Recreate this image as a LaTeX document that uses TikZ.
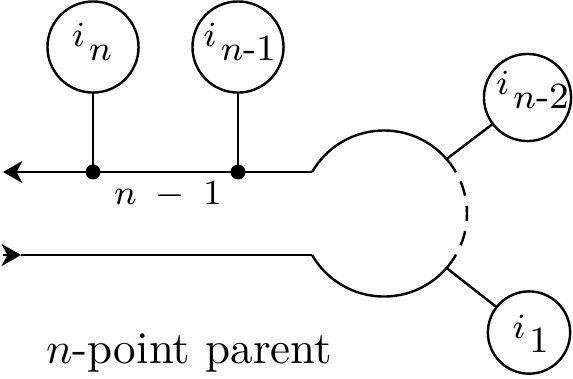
\documentclass[tikz,border=0pt]{standalone}
\usetikzlibrary{arrows.meta}
\newcommand\leaflab[1]{{\fontsize{8}{9}\selectfont$i$}\hspace{1pt}\raisebox{-3.3pt}{\fontsize{8.4}{10}\selectfont #1}}
\begin{document}
\begin{tikzpicture}[x=0.2273pt,y=0.2273pt,
  line width=0.55pt,
  leaf/.style={draw,circle,inner sep=0pt,outer sep=0pt},
  leafA/.style={leaf,minimum size=20.7pt},
  leafB/.style={leaf,minimum size=19.8pt},
  leafC/.style={leaf,minimum size=18.7pt},
  lab/.style={inner sep=0pt},
  dot/.style={fill,circle,inner sep=0pt,minimum size=3.4pt},
  dashedarc/.style={dash pattern=on 3.4pt off 2.35pt,dash phase=3.37pt}
]
\useasboundingbox (0,0) rectangle (573,378);
% leaf circles
\node[leafA] (cn) at (93,331) {};
\node[leafA] (cn1) at (238,331) {};
\node[leafB] (cn2) at (527.5,280.5) {};
\node[leafC] (c1) at (529,45.5) {};
\node[lab] (lcn) at (92,336) {\leaflab{$n$}};
\node[lab] (lcn1) at (240,336) {\leaflab{$n$-1}};
\node[lab] (lcn2) at (532.5,288) {\leaflab{$n$-2}};
\node[lab] (lc1) at (531,44) {\leaflab{1}};
% junction dots
\node[dot] (j1) at (93,206) {};
\node[dot] (j2) at (238,206) {};
% lines
\coordinate (tl) at (3,206);
\coordinate (tr) at (312.1,206);
\coordinate (ba) at (3,123);
\coordinate (bt) at (21,123);
\coordinate (br) at (312.1,123);
\draw[{Stealth[length=4.4pt,width=5pt,inset=1.3pt]}-] (tl) -- (tr);
\draw[-{Stealth[length=4.4pt,width=5pt,inset=1.3pt]}] (ba) -- (bt);
\draw (bt) -- (br);
\draw (cn.south) -- (j1.center);
\draw (cn1.south) -- (j2.center);
% big blob
\coordinate (bc) at (384,164.5);
\draw (tr) arc[start angle=150,end angle=30,radius=83] coordinate (da);
\draw[dashedarc] (da) arc[start angle=30,end angle=-30,radius=83] coordinate (db);
\draw (br) arc[start angle=210,end angle=330,radius=83];
\coordinate (lu) at (446.6,219);
\coordinate (ll) at (446.6,110);
\draw (lu) -- (cn2);
\draw (ll) -- (c1);
% texts
\node[font=\fontsize{7.8}{9}\selectfont,inner sep=0pt] (nm) at (168,183) {$n\;-\;1$};
\node[anchor=base west,font=\fontsize{10.25}{12}\selectfont,inner sep=0pt] (title) at (45,15) {$n$-point parent};
\end{tikzpicture}
\end{document}
